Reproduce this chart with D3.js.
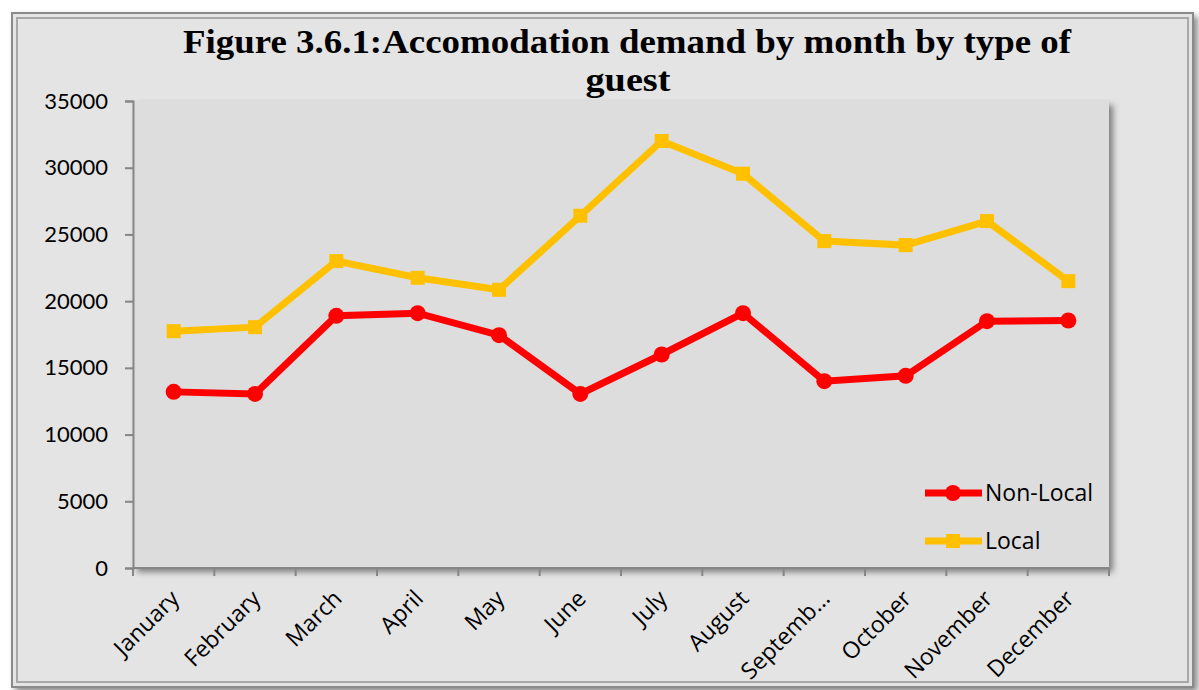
<!DOCTYPE html>
<meta charset="utf-8">
<script src="https://d3js.org/d3.v7.min.js"></script>
<style>
  body { margin: 0; background: #fff; }
  text { font-family: "Open Sans", Lato, sans-serif; }
</style>
<div id="chart"></div>
<script>

// data
var months = ["January", "February", "March", "April", "May", "June", "July",
              "August", "Septemb...", "October", "November", "December"]
var nonLocal = [13200, 13050, 18900, 19100, 17450, 13050, 16000, 19100, 14000, 14400, 18500, 18550]
var local = [17750, 18050, 23000, 21750, 20850, 26400, 32000, 29550, 24500, 24200, 26000, 21500]
var yTicks = [0, 5000, 10000, 15000, 20000, 25000, 30000, 35000]

var W = 1199, H = 690
var margin = {top: 101, right: 90, bottom: 122, left: 133},
    width = W - margin.left - margin.right,
    height = H - margin.top - margin.bottom

var svg = d3.select("#chart").append("svg")
    .attr("width", W)
    .attr("height", H)

var defs = svg.append("defs")
var sh = defs.append("filter").attr("id", "shadow")
    .attr("x", "-5%").attr("y", "-5%").attr("width", "115%").attr("height", "115%")
sh.append("feDropShadow").attr("dx", 4).attr("dy", 4).attr("stdDeviation", 3)
    .attr("flood-color", "#000").attr("flood-opacity", 0.45)

// outer frame
svg.append("rect").attr("x", 12).attr("y", 13).attr("width", 1181).attr("height", 674)
    .attr("fill", "#e4e4e4").attr("stroke", "#8a8a8a").attr("stroke-width", 2)
    .attr("filter", "url(#shadow)")
svg.append("rect").attr("x", 17).attr("y", 18).attr("width", 1171).attr("height", 664)
    .attr("fill", "none").attr("stroke", "#a8a8a8").attr("stroke-width", 2)

// title
var title = svg.append("text")
    .attr("text-anchor", "middle")
    .style("font-family", "'Liberation Serif', 'DejaVu Serif', serif")
    .style("font-weight", "bold")
    .style("font-size", "34px")
    .attr("fill", "#000")
title.append("tspan").attr("x", 627).attr("y", 53)
    .attr("textLength", 888).attr("lengthAdjust", "spacingAndGlyphs")
    .text("Figure 3.6.1:Accomodation demand by month by type of")
title.append("tspan").attr("x", 628).attr("y", 91)
    .attr("textLength", 85).attr("lengthAdjust", "spacingAndGlyphs")
    .text("guest")

var g = svg.append("g")
    .attr("transform", "translate(" + margin.left + "," + margin.top + ")")

// plot area
g.append("rect").attr("width", width).attr("height", height)
    .attr("fill", "#dddddd").attr("filter", "url(#shadow)")

var x = d3.scaleBand().domain(months).range([0, width])
var y = d3.scaleLinear().domain([0, 35000]).range([height, 0])

// y axis
var yAxis = g.append("g")
    .call(d3.axisLeft(y).tickValues(yTicks).tickSize(8).tickPadding(17).tickFormat(d3.format("d")))
yAxis.selectAll("path, line").attr("stroke", "#868686").attr("stroke-width", 2)
yAxis.selectAll("text").style("font-size", "22px").attr("fill", "#000")
  .style("font-family", "Lato, sans-serif")

// x axis with ticks at band boundaries
var xAxisG = g.append("g").attr("transform", "translate(0," + height + ")")
xAxisG.append("line").attr("x1", 0).attr("x2", width)
    .attr("stroke", "#868686").attr("stroke-width", 2)
xAxisG.selectAll(".bt").data(d3.range(months.length + 1)).enter().append("line")
    .attr("x1", function(i) { return i * x.step() })
    .attr("x2", function(i) { return i * x.step() })
    .attr("y1", 0).attr("y2", 8)
    .attr("stroke", "#868686").attr("stroke-width", 2)
xAxisG.selectAll(".lbl").data(months).enter().append("text")
    .attr("text-anchor", "end")
    .attr("transform", function(d) {
      return "translate(" + (x(d) + x.bandwidth() / 2 + 7) + ",32) rotate(-45)"
    })
    .style("font-size", "23px")
    .attr("fill", "#000")
    .text(function(d) { return d })

var cx = function(d, i) { return x(months[i]) + x.bandwidth() / 2 }
var line = d3.line().x(cx).y(function(d) { return y(d) })

// Local series
g.append("path").datum(local).attr("d", line)
    .attr("fill", "none").attr("stroke", "#ffc000").attr("stroke-width", 7)
g.selectAll(".sq").data(local).enter().append("rect")
    .attr("x", function(d, i) { return cx(d, i) - 7 })
    .attr("y", function(d) { return y(d) - 7 })
    .attr("width", 14).attr("height", 14).attr("fill", "#ffc000")

// Non-Local series
g.append("path").datum(nonLocal).attr("d", line)
    .attr("fill", "none").attr("stroke", "#ff0000").attr("stroke-width", 7)
g.selectAll(".dot").data(nonLocal).enter().append("circle")
    .attr("cx", cx).attr("cy", function(d) { return y(d) })
    .attr("r", 8).attr("fill", "#ff0000")

// legend
var legend = svg.append("g")
var items = [{name: "Non-Local", color: "#ff0000", shape: "circle", y: 493},
             {name: "Local", color: "#ffc000", shape: "square", y: 541}]
legend.selectAll("line").data(items).enter().append("line")
    .attr("x1", 925).attr("x2", 982)
    .attr("y1", function(d) { return d.y }).attr("y2", function(d) { return d.y })
    .attr("stroke", function(d) { return d.color }).attr("stroke-width", 7)
legend.selectAll("circle").data(items.filter(function(d) { return d.shape == "circle" })).enter()
    .append("circle").attr("cx", 953).attr("cy", function(d) { return d.y }).attr("r", 8)
    .attr("fill", function(d) { return d.color })
legend.selectAll("rect").data(items.filter(function(d) { return d.shape == "square" })).enter()
    .append("rect").attr("x", 946).attr("y", function(d) { return d.y - 7 })
    .attr("width", 14).attr("height", 14).attr("fill", function(d) { return d.color })
legend.selectAll("text").data(items).enter().append("text")
    .attr("x", 985).attr("y", function(d) { return d.y + 8 })
    .style("font-size", "23px").attr("fill", "#000")
    .text(function(d) { return d.name })

</script>
